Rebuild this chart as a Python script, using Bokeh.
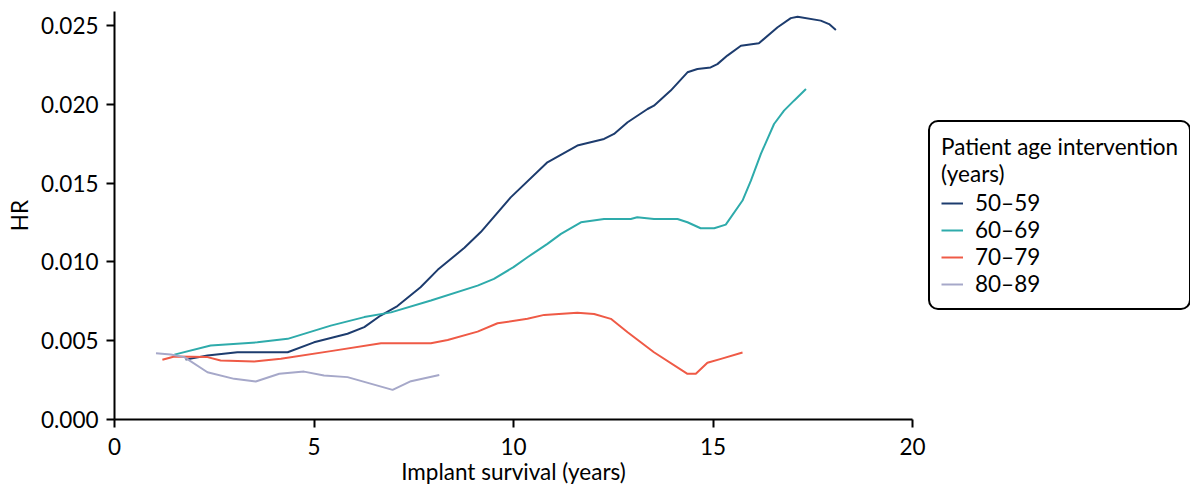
from bokeh.plotting import figure
from bokeh.models import Legend, LegendItem, FixedTicker, NumeralTickFormatter, Range1d
from bokeh.embed import file_html
from bokeh.resources import INLINE

# 50-59
t_50 = [1.78, 2.33, 3.08, 4.34, 5.0, 5.84, 6.26, 6.67, 7.09, 7.67, 8.1, 8.77, 9.18, 9.93, 10.85, 11.6,
        12.27, 12.52, 12.86, 13.36, 13.52, 13.94, 14.36, 14.61, 14.94, 15.11, 15.36, 15.7, 16.15, 16.62,
        16.95, 17.12, 17.7, 17.91, 18.08]
hr_50 = [0.0038, 0.00406, 0.00427, 0.00427, 0.0049, 0.00544, 0.00586, 0.0066, 0.0072, 0.0084, 0.0095,
         0.0109, 0.0119, 0.0141, 0.01633, 0.01739, 0.01781, 0.01813, 0.01887, 0.01971, 0.01992, 0.02088,
         0.02204, 0.02225, 0.02235, 0.02256, 0.0231, 0.02373, 0.02388, 0.0249, 0.02548, 0.02557, 0.02532,
         0.0251, 0.02473]

# 60-69
t_60 = [1.5, 2.41, 3.58, 4.34, 5.42, 6.26, 6.93, 7.93, 9.1, 9.51, 10.0, 10.35, 10.85, 11.19, 11.69, 12.27,
        12.94, 13.1, 13.52, 14.11, 14.36, 14.69, 15.03, 15.32, 15.74, 15.95, 16.2, 16.53, 16.78, 17.03, 17.33]
hr_60 = [0.00412, 0.0047, 0.0049, 0.00512, 0.00596, 0.0065, 0.0068, 0.00755, 0.0085, 0.00893, 0.00967,
         0.0103, 0.01115, 0.01178, 0.01252, 0.01273, 0.01273, 0.01284, 0.01273, 0.01273, 0.01252, 0.01214,
         0.01214, 0.01237, 0.0139, 0.01517, 0.01686, 0.01876, 0.01961, 0.02024, 0.02098]

# 70-79
t_70 = [1.2, 1.5, 2.33, 2.66, 3.5, 4.17, 5.42, 6.68, 7.93, 8.35, 9.1, 9.6, 10.35, 10.77, 11.6, 12.02,
        12.44, 12.86, 13.52, 14.36, 14.57, 14.86, 15.2, 15.74]
hr_70 = [0.00379, 0.004, 0.00396, 0.00374, 0.00368, 0.00385, 0.00434, 0.00484, 0.00484, 0.00505, 0.00558,
         0.00611, 0.00639, 0.00664, 0.00677, 0.0067, 0.00639, 0.00554, 0.00427, 0.0029, 0.0029, 0.0036,
         0.00385, 0.00425]

# 80-89
t_80 = [1.04, 1.41, 1.75, 2.33, 3.0, 3.54, 4.13, 4.75, 5.25, 5.84, 6.97, 7.43, 8.14]
hr_80 = [0.00421, 0.00412, 0.00396, 0.003, 0.00258, 0.00241, 0.0029, 0.00304, 0.00279, 0.00269, 0.00188,
         0.00243, 0.00283]

labels = ["50\u201359", "60\u201369", "70\u201379", "80\u201389"]
colors = ["#1d3c6e", "#2eabab", "#ef5a46", "#a6a8c9"]
x_ticks = [0, 5, 10, 15, 20]
y_ticks = [0.0, 0.005, 0.010, 0.015, 0.020, 0.025]

FONT = "Lato"
FS = "22.5px"

p = figure(frame_width=798, frame_height=408, output_backend="svg", toolbar_location=None,
           x_range=Range1d(0, 20), y_range=Range1d(0, 0.0259),
           min_border_left=114, min_border_top=11, min_border_bottom=66, min_border_right=0)
p.grid.visible = False
p.outline_line_color = None
p.background_fill_color = "white"

series = [(t_50, hr_50), (t_60, hr_60), (t_70, hr_70), (t_80, hr_80)]
items = []
for (tx, hy), lab, col in zip(series, labels, colors):
    r = p.line(tx, hy, line_color=col, line_width=2)
    items.append(LegendItem(label=lab, renderers=[r]))

for ax in (p.xaxis[0], p.yaxis[0]):
    ax.axis_line_width = 2
    ax.axis_line_color = "black"
    ax.major_tick_line_width = 2
    ax.major_tick_line_color = "black"
    ax.major_tick_out = 8
    ax.major_tick_in = 0
    ax.minor_tick_line_color = None
    ax.major_label_text_font = FONT
    ax.major_label_text_font_size = FS
    ax.major_label_text_color = "black"
    ax.axis_label_text_font = FONT
    ax.axis_label_text_font_size = FS
    ax.axis_label_text_font_style = "normal"
    ax.axis_label_text_color = "black"

p.xaxis.ticker = FixedTicker(ticks=x_ticks)
p.yaxis.ticker = FixedTicker(ticks=y_ticks)
p.yaxis.formatter = NumeralTickFormatter(format="0.000")
p.xaxis.axis_label = "Implant survival (years)"
p.yaxis.axis_label = "HR"
p.xaxis.axis_label_standoff = 0
p.yaxis.axis_label_standoff = 5
p.xaxis.major_label_standoff = 10
p.yaxis.major_label_standoff = 8

legend = Legend(items=items, location="left",
                title="Patient age intervention\n(years)",
                title_text_font=FONT, title_text_font_size=FS, title_text_font_style="normal",
                title_text_color="black", title_standoff=2,
                label_text_font=FONT, label_text_font_size=FS, label_text_color="black",
                glyph_width=22, glyph_height=20, label_standoff=12, spacing=-3,
                padding=11, margin=16,
                border_line_color="black", border_line_width=2, border_line_alpha=1,
                background_fill_color="white", background_fill_alpha=1)
try:
    legend.border_radius = 10
except Exception:
    pass
p.add_layout(legend, "right")

open("out.html", "w").write(file_html(p, INLINE))
